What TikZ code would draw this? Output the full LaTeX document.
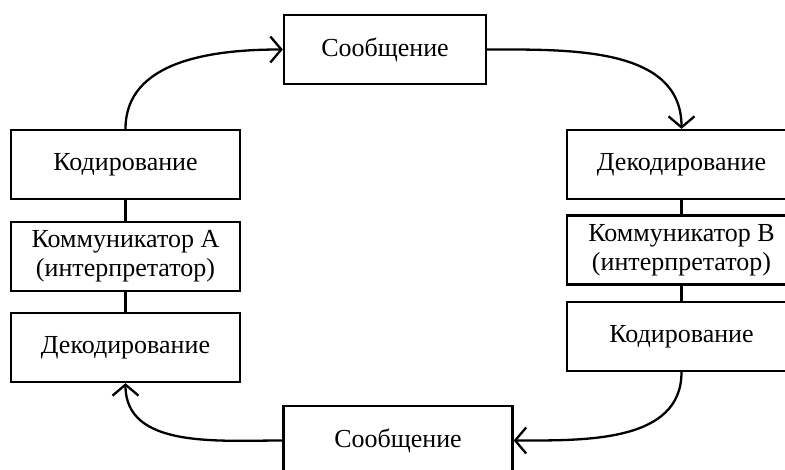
\documentclass[tikz,border=0pt]{standalone}
\usepackage{fontspec}
\setmainfont{Liberation Serif}
\usetikzlibrary{arrows.meta}
\begin{document}
\begin{tikzpicture}[x=1pt,y=-1pt,
  box/.style={draw,line width=2.3pt,minimum width=229pt,minimum height=69pt,inner sep=0pt,align=center,font=\fontsize{26}{29}\selectfont},
  conn/.style={line width=2.3pt},
  arr/.style={conn,-{Straight Barb[length=11pt,width=26pt,line width=2.3pt]}}]
\useasboundingbox (0,0) rectangle (785,470);
\clip (0,0) rectangle (785,470);
\node[box,minimum width=202pt] (msgT) at (385,49.5) {Сообщение};
\node[box] (msgB) at (398,440.5) {Сообщение};
\node[box] (encA) at (125.5,164.5) {Кодирование};
\node[box] (comA) at (125.5,256.5) {Коммуникатор A\\(интерпретатор)};
\node[box] (decA) at (125.5,347.5) {Декодирование};
\node[box] (decB) at (681.5,164.5) {Декодирование};
\node[box] (comB) at (681.5,250) {Коммуникатор B\\(интерпретатор)};
\node[box] (encB) at (681.5,336.5) {Кодирование};
\draw[conn] (encA.south) -- (comA.north);
\draw[conn] (comA.south) -- (decA.north);
\draw[conn] (decB.south) -- (comB.north);
\draw[conn] (comB.south) -- (encB.north);
\draw[arr] (encA.north) to[out=90,in=180] (msgT.west);
\draw[arr] (msgT.east) to[out=0,in=90] (decB.north);
\draw[arr] (encB.south) to[out=-90,in=0] (msgB.east);
\draw[arr] (msgB.west) to[out=180,in=-90] (decA.south);
\end{tikzpicture}
\end{document}
